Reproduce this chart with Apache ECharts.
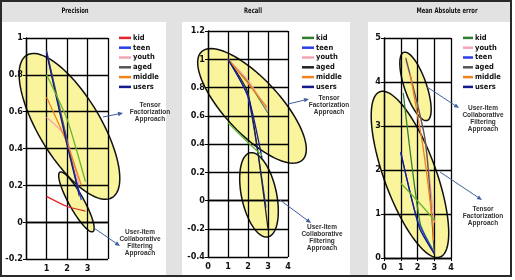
<!DOCTYPE html>
<html>
<head>
<meta charset="utf-8">
<script src="https://cdn.jsdelivr.net/npm/echarts@6/dist/echarts.min.js"></script>
<style>
  body { margin: 0; background: #fff; }
  #frame { position: absolute; left: 0; top: 0; width: 508px; height: 273px; border: 2px solid #2a2a2a; background: #e2e2e2; }
  .panel { position: absolute; background: #fff; top: 22px; height: 253px; }
  #main { position: absolute; left: 0; top: 0; width: 515px; height: 280px; }
</style>
</head>
<body>
<div id="frame"></div>
<div class="panel" style="left:2px;width:164px"></div>
<div class="panel" style="left:182px;width:168px"></div>
<div class="panel" style="left:368px;width:142px"></div>
<div id="main"></div>
<script>
// ---- data ----
var names = ['kid', 'teen', 'youth', 'aged', 'middle', 'users'];
var maeNames = ['kid', 'youth', 'teen', 'aged', 'middle', 'users'];

// Precision
var precKid    = [[1, 0.14], [2, 0.085], [2.9, 0.06]];
var precTeen   = [[1, 0.93], [2, 0.43], [2.7, 0.12]];
var precYouth  = [[1, 0.57], [1.9, 0.47], [2.6, 0.2]];
var precAged   = [[1, 0.93], [2, 0.45], [2.6, 0.14]];
var precMiddle = [[1, 0.68], [2, 0.43], [2.7, 0.2]];
var precUsers  = [[1, 0.92], [2, 0.42], [2.6, 0.15]];
var precOther  = [[1, 0.8], [2, 0.56], [2.9, 0.22]];

// Recall
var recKid    = [[1, 1.0], [2, 0.84], [3, 0.62]];
var recTeen   = [[1, 1.0], [2, 0.73], [2.9, -0.05]];
var recYouth  = [[1, 1.0], [2, 0.85], [3, 0.63]];
var recAged   = [[1, 1.0], [2, 0.76], [3, -0.2]];
var recMiddle = [[1, 1.0], [2, 0.83], [2.95, 0.66]];
var recUsers  = [[1, 1.0], [2, 0.74], [2.7, 0.3]];
var recOther  = [[1, 0.55], [2, 0.41], [2.7, 0.32]];

// Mean Absolute error
var maeKid    = [[1.15, 3.75], [2.15, 0.8], [2.9, 0.2]];
var maeYouth  = [[1.3, 4.5], [2.4, 2.8], [3, 0.8]];
var maeTeen   = [[1, 2.4], [2, 0.86], [3, 0.1]];
var maeAged   = [[1.3, 4.55], [2.45, 2.7], [3, 0.1]];
var maeMiddle = [[1.55, 4.2], [2.33, 2.52], [2.93, 0.7], [2.95, 0.4]];
var maeUsers  = [[1, 2.4], [2.1, 0.7], [3, 0.1]];
var maeOther  = [[1, 1.7], [2, 1.3], [3, 0.86]];

// ellipses: centre x, centre y, half length (px), half width (px), tilt (deg)
var precEllipses = [[2.12, 0.52, 83, 31, 59], [2.46, 0.11, 34, 7.5, 61]];
var recEllipses  = [[2.2, 0.67, 74, 27.5, 47], [2.55, 0.04, 43, 17.5, 78]];
var maeEllipses  = [[1.55, 1.9, 88, 26, 70], [1.88, 3.9, 36, 11, 71]];

var colors = {
  red: '#e0262a', blue: '#2b3ee6', pink: '#f4a3b4', black: '#222222', gray: '#555555',
  orange: '#f0821e', navy: '#141a8a', green: '#2f7d2f', lightGreen: '#6ab52e'
};

var narrow = "'Liberation Sans Narrow','Arial Narrow','DejaVu Sans Condensed',sans-serif";
var plain = "'Liberation Sans',Arial,sans-serif";

var chart = echarts.init(document.getElementById('main'), null, { renderer: 'canvas' });

function lineSeries(prefix, name, data, color, idx, width) {
  return {
    name: prefix + name, type: 'line', xAxisIndex: idx, yAxisIndex: idx,
    data: data, symbol: 'none', smooth: 0.2,
    lineStyle: { color: color, width: width || 1.3 },
    itemStyle: { color: color },
    z: 3
  };
}

function ellipseItem(params, api) {
  var c = api.coord([api.value(0), api.value(1)]);
  var a = api.value(2), b = api.value(3), t = api.value(4) * Math.PI / 180;
  var pts = [];
  for (var i = 0; i < 90; i++) {
    var u = i / 90 * Math.PI * 2;
    var ex = a * Math.cos(u), ey = b * Math.sin(u);
    pts.push([c[0] + ex * Math.cos(t) - ey * Math.sin(t), c[1] + ex * Math.sin(t) + ey * Math.cos(t)]);
  }
  return { type: 'polygon', shape: { points: pts }, style: { fill: '#faf59c', stroke: '#111', lineWidth: 1.5 } };
}

function ellipseSeries(data, idx) {
  return { type: 'custom', xAxisIndex: idx, yAxisIndex: idx, data: data,
           renderItem: ellipseItem, encode: { x: 0, y: 1 }, z: -1, silent: true };
}

function xAxisFor(idx, hideEnds, margin) {
  return {
    gridIndex: idx, type: 'value', min: 0, max: 4, interval: 1,
    axisLine: { lineStyle: { color: '#000', width: 1.3 } },
    axisTick: { show: !hideEnds, length: 3, lineStyle: { color: '#000' } },
    splitLine: { lineStyle: { color: '#000', width: 1.3 } },
    axisLabel: {
      margin: margin, fontSize: 9, fontFamily: narrow, fontWeight: 'bold', color: '#111',
      formatter: function (v) { return hideEnds && (v === 0 || v === 4) ? '' : String(v); }
    }
  };
}

function yAxisFor(idx, min, max, interval) {
  return {
    gridIndex: idx, type: 'value', min: min, max: max, interval: interval,
    axisLine: { lineStyle: { color: '#000', width: 1.3 } },
    axisTick: { show: true, length: 3, lineStyle: { color: '#000' } },
    splitLine: { lineStyle: { color: '#000', width: 1.3 } },
    axisLabel: { margin: 3, fontSize: 9, fontFamily: narrow, fontWeight: 'bold', color: '#111' }
  };
}

function legendFor(prefix, list, left, iconW) {
  return {
    orient: 'vertical', left: left, top: 33, padding: 0, icon: 'rect', itemWidth: iconW, itemHeight: 2.5,
    itemGap: 0, selectedMode: false,
    data: list.map(function (n) { return prefix + n; }),
    formatter: function (n) { return n.slice(2); },
    textStyle: { fontSize: 7.5, fontFamily: narrow, fontWeight: 'bold', color: '#111', lineHeight: 9.8, padding: [0, 0, 0, -3] }
  };
}

function arrow(x1, y1, x2, y2) {
  var ang = Math.atan2(y2 - y1, x2 - x1), L = 5, W = 2.2;
  var bx = x2 - L * Math.cos(ang), by = y2 - L * Math.sin(ang);
  return [
    { type: 'line', shape: { x1: x1, y1: y1, x2: bx, y2: by }, style: { stroke: '#3e5f9c', lineWidth: 1 }, z: 10 },
    { type: 'polygon', shape: { points: [[x2, y2], [bx - W * Math.sin(ang), by + W * Math.cos(ang)], [bx + W * Math.sin(ang), by - W * Math.cos(ang)]] },
      style: { fill: '#3e5f9c' }, z: 10 }
  ];
}

function note(x, y, txt) {
  return { type: 'text', x: x, y: y, z: 10,
    style: { text: txt, align: 'center', verticalAlign: 'top', fontSize: 6.5, fontWeight: 'bold',
             fontFamily: plain, fill: '#333', lineHeight: 7 } };
}

function title(x, txt) {
  return { type: 'text', x: x, y: 11, z: 10, scaleX: 0.78,
    style: { text: txt, align: 'center', verticalAlign: 'middle', fontSize: 7.5, fontWeight: 'bold',
             fontFamily: narrow, fill: '#111' } };
}

var graphics = [
  title(75, 'Precision'), title(253, 'Recall'), title(447, 'Mean Absolute error'),
  note(150, 102, 'Tensor\nFactorization\nApproach'),
  note(140, 229, 'User-Item\nCollaborative\nFiltering\nApproach'),
  note(329, 95, 'Tensor\nFactorization\nApproach'),
  note(322, 224, 'User-Item\nCollaborative\nFiltering\nApproach'),
  note(483, 105, 'User-Item\nCollaborative\nFiltering\nApproach'),
  note(483, 206, 'Tensor\nFactorization\nApproach')
].concat(arrow(103, 117, 123, 113), arrow(94, 228, 120, 246),
         arrow(288, 104, 309, 99), arrow(280, 200, 311, 223),
         arrow(427, 87, 459, 108), arrow(440, 172, 482, 200));

var option = {
  animation: false,
  grid: [
    { left: 26, top: 38, width: 82, height: 221 },
    { left: 208, top: 31, width: 80, height: 226 },
    { left: 384, top: 38, width: 67, height: 220 }
  ],
  xAxis: [xAxisFor(0, true, 5), xAxisFor(1, false, 5), xAxisFor(2, false, 5)],
  yAxis: [yAxisFor(0, -0.2, 1, 0.2), yAxisFor(1, -0.4, 1.2, 0.2), yAxisFor(2, 0, 5, 1)],
  legend: [legendFor('P-', names, 119, 12), legendFor('R-', names, 302, 12), legendFor('M-', maeNames, 463, 10)],
  graphic: graphics,
  series: [
    ellipseSeries(precEllipses, 0), ellipseSeries(recEllipses, 1), ellipseSeries(maeEllipses, 2),

    lineSeries('P-', 'kid', precKid, colors.red, 0),
    lineSeries('P-', 'teen', precTeen, colors.blue, 0),
    lineSeries('P-', 'youth', precYouth, colors.pink, 0),
    lineSeries('P-', 'aged', precAged, colors.gray, 0),
    lineSeries('P-', 'middle', precMiddle, colors.orange, 0),
    lineSeries('P-', 'users', precUsers, colors.navy, 0),
    lineSeries('P-', 'other', precOther, colors.lightGreen, 0),

    lineSeries('R-', 'kid', recKid, colors.green, 1),
    lineSeries('R-', 'teen', recTeen, colors.blue, 1),
    lineSeries('R-', 'youth', recYouth, colors.pink, 1),
    lineSeries('R-', 'aged', recAged, colors.black, 1),
    lineSeries('R-', 'middle', recMiddle, colors.orange, 1),
    lineSeries('R-', 'users', recUsers, colors.navy, 1),
    lineSeries('R-', 'other', recOther, colors.lightGreen, 1),

    lineSeries('M-', 'kid', maeKid, colors.green, 2),
    lineSeries('M-', 'youth', maeYouth, colors.pink, 2),
    lineSeries('M-', 'teen', maeTeen, colors.blue, 2),
    lineSeries('M-', 'aged', maeAged, colors.gray, 2),
    lineSeries('M-', 'middle', maeMiddle, colors.orange, 2),
    lineSeries('M-', 'users', maeUsers, colors.navy, 2),
    lineSeries('M-', 'other', maeOther, colors.lightGreen, 2)
  ]
};
chart.setOption(option);
</script>
</body>
</html>
